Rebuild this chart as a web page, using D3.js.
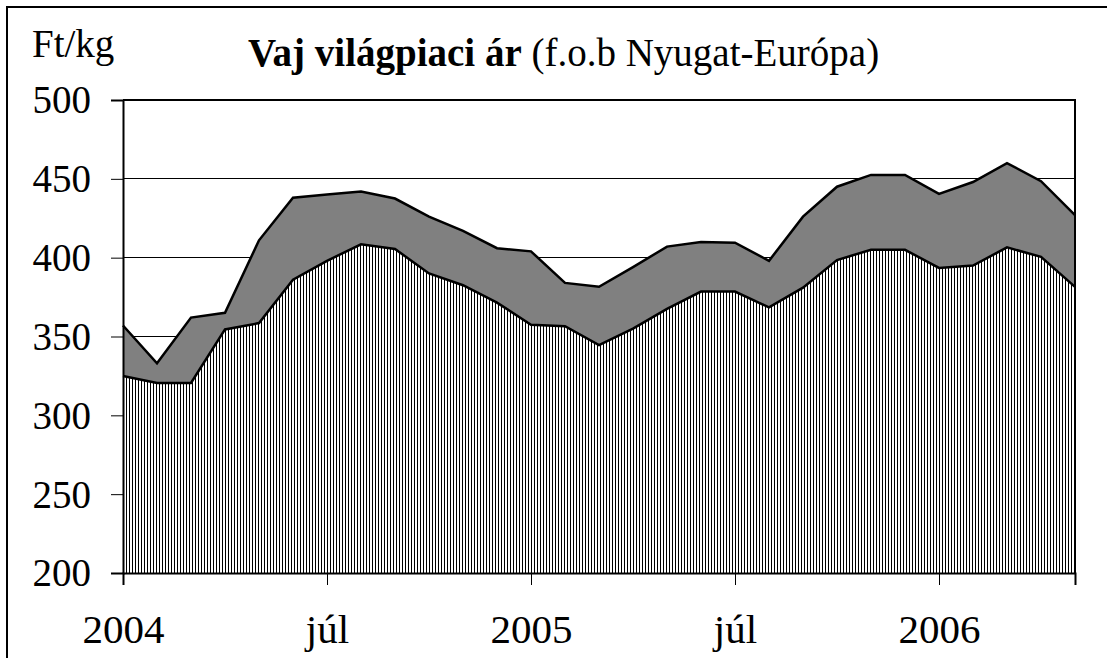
<!DOCTYPE html>
<html><head><meta charset="utf-8">
<script src="https://cdn.jsdelivr.net/npm/d3@7"></script>
<style>
html,body{margin:0;padding:0;background:#fff;}
svg{display:block;}
text{font-family:"Liberation Serif","Times New Roman",serif;fill:#000;}
</style></head>
<body>
<svg id="chart" width="1107" height="658"></svg>
<script>
// month index 0 = 2004 január ... 28 = 2006 május
const months = d3.range(29);
const upperValues = [357, 333, 362, 365, 411, 438, 440, 442, 437.5, 426, 417, 406, 404, 384, 381.5, 394, 407, 410, 409.5, 398, 426, 445, 452.5, 452.5, 440.5, 448, 460, 448.5, 427];
const lowerValues = [325, 320.5, 320.5, 354.5, 358.5, 386, 398, 408.5, 405.5, 390, 382.5, 371.5, 357.5, 356.5, 344.5, 355, 367.5, 378.5, 378.5, 368.5, 381, 398.5, 405, 405, 393.5, 395, 406.5, 400.5, 381.5];
const xTickIndex = [0, 6, 12, 18, 24];
const xTickLabels = ["2004", "júl", "2005", "júl", "2006"];
const yTicks = [200, 250, 300, 350, 400, 450, 500];
const titleBold = "Vaj világpiaci ár";
const titleRest = " (f.o.b Nyugat-Európa)";
const unitLabel = "Ft/kg";

const svg = d3.select("#chart");
const L = 123, R = 1075, T = 100, B = 573;
const x = d3.scaleLinear().domain([0, 28]).range([L, R]);
const y = d3.scaleLinear().domain([200, 500]).range([B, T]);

// outer frame
svg.append("rect").attr("x", 7).attr("y", 7).attr("width", 1120).attr("height", 700)
  .attr("fill", "none").attr("stroke", "#000").attr("stroke-width", 2);

// hatch pattern
const defs = svg.append("defs");
const pat = defs.append("pattern").attr("id", "hatch").attr("patternUnits", "userSpaceOnUse")
  .attr("width", 3).attr("height", 10);
pat.append("rect").attr("width", 3).attr("height", 10).attr("fill", "#fff");
pat.append("rect").attr("x", 0).attr("width", 1).attr("height", 10).attr("fill", "#000");

// gridlines
svg.append("g").selectAll("line").data(yTicks.filter(d => d > 200 && d < 500)).join("line")
  .attr("x1", L).attr("x2", R).attr("y1", d => y(d)).attr("y2", d => y(d))
  .attr("stroke", "#000").attr("stroke-width", 1).attr("shape-rendering", "crispEdges");

// areas
const area = d3.area().x((d, i) => x(months[i])).y0(y(200)).y1(d => y(d));
svg.append("path").datum(upperValues).attr("d", area).attr("fill", "#808080");
svg.append("path").datum(lowerValues).attr("d", area).attr("fill", "url(#hatch)");

const line = d3.line().x((d, i) => x(months[i])).y(d => y(d));
svg.append("path").datum(upperValues).attr("d", line).attr("fill", "none")
  .attr("stroke", "#000").attr("stroke-width", 2.5).attr("stroke-linejoin", "miter");
svg.append("path").datum(lowerValues).attr("d", line).attr("fill", "none")
  .attr("stroke", "#000").attr("stroke-width", 2.5).attr("stroke-linejoin", "miter");

// plot frame (top + right)
svg.append("path").attr("d", `M${L},${T}H${R}V${B}`).attr("fill", "none")
  .attr("stroke", "#000").attr("stroke-width", 2);

// y axis
const yAxis = d3.axisLeft(y).tickValues(yTicks).tickSize(12).tickPadding(20).tickFormat(d3.format("d"));
const gy = svg.append("g").attr("transform", `translate(${L},0)`).call(yAxis);
gy.select(".domain").attr("stroke", "#000").attr("stroke-width", 2);
gy.selectAll(".tick line").attr("stroke", "#000").attr("stroke-width", 1);
gy.selectAll(".tick text").style("font-size", "39px").attr("x", -32).attr("dy", "0.33em");

// x axis
const xAxis = d3.axisBottom(x).tickValues(xTickIndex).tickSize(12).tickPadding(0)
  .tickFormat((d, i) => xTickLabels[i]);
const gx = svg.append("g").attr("transform", `translate(0,${B})`).call(xAxis);
gx.select(".domain").attr("stroke", "#000").attr("stroke-width", 2);
gx.selectAll(".tick line").attr("stroke", "#000").attr("stroke-width", 1);
gx.selectAll(".tick text").style("font-size", "41px").attr("y", 70).attr("dy", 0);

// unit label
svg.append("text").attr("x", 32).attr("y", 57).style("font-size", "39px").text(unitLabel);

// title
const title = svg.append("text").attr("x", 248).attr("y", 66).style("font-size", "39px");
title.append("tspan").attr("font-weight", "bold").text(titleBold);
title.append("tspan").text(titleRest);
</script>
</body></html>
